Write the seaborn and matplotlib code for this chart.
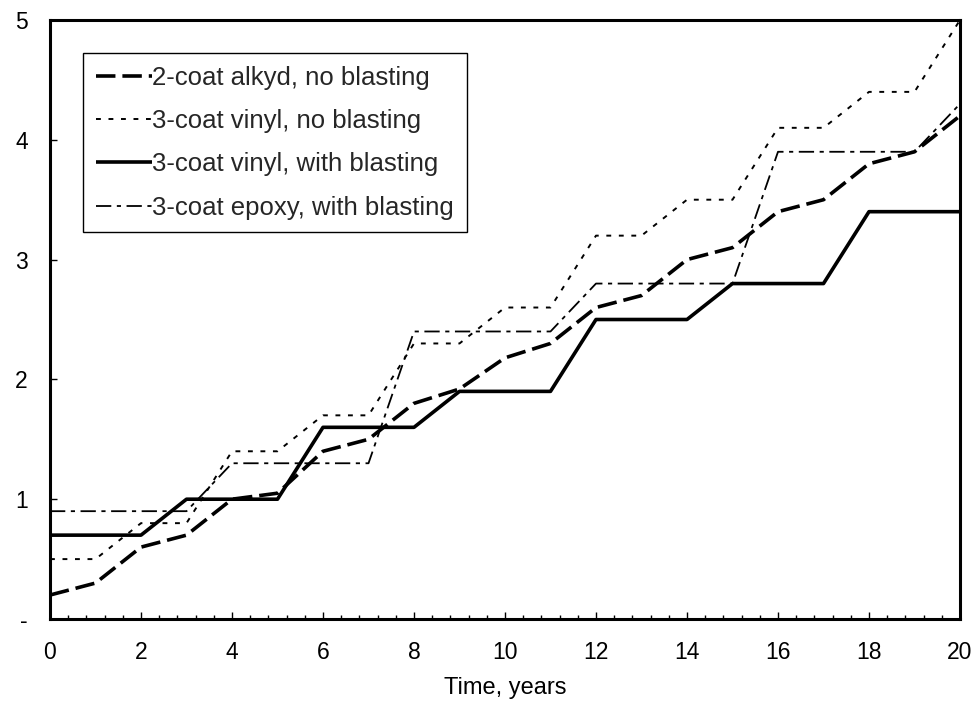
import matplotlib
matplotlib.use("Agg")
import matplotlib.pyplot as plt
from matplotlib.ticker import MultipleLocator, FixedLocator, FixedFormatter
import seaborn as sns
import pandas as pd

years = list(range(0, 21))
alkyd_no_blast = [0.2, 0.3, 0.6, 0.7, 1.0, 1.05, 1.4, 1.5, 1.8, 1.92, 2.18, 2.3,
                  2.6, 2.7, 3.0, 3.1, 3.4, 3.5, 3.8, 3.9, 4.2]
vinyl_no_blast = [0.5, 0.5, 0.8, 0.8, 1.4, 1.4, 1.7, 1.7, 2.3, 2.3, 2.6, 2.6,
                  3.2, 3.2, 3.5, 3.5, 4.1, 4.1, 4.4, 4.4, 5.0]
vinyl_blast = [0.7, 0.7, 0.7, 1.0, 1.0, 1.0, 1.6, 1.6, 1.6, 1.9, 1.9, 1.9,
               2.5, 2.5, 2.5, 2.8, 2.8, 2.8, 3.4, 3.4, 3.4]
epoxy_blast = [0.9, 0.9, 0.9, 0.9, 1.3, 1.3, 1.3, 1.3, 2.4, 2.4, 2.4, 2.4,
               2.8, 2.8, 2.8, 2.8, 3.9, 3.9, 3.9, 3.9, 4.3]

labels = ["2-coat alkyd, no blasting", "3-coat vinyl, no blasting",
          "3-coat vinyl, with blasting", "3-coat epoxy, with blasting"]
x_ticks = [0, 2, 4, 6, 8, 10, 12, 14, 16, 18, 20]
y_ticks = [0, 1, 2, 3, 4, 5]
y_ticklabels = ["-", "1", "2", "3", "4", "5"]
x_label = "Time, years"

sns.set_style("white")
plt.rcParams["font.family"] = ["Liberation Sans", "DejaVu Sans"]
plt.rcParams["lines.scale_dashes"] = False

fig = plt.figure(figsize=(9.76, 7.04), dpi=100)
ax = fig.add_axes([50 / 976, 1 - 619 / 704, 910 / 976, 599 / 704])

series = [alkyd_no_blast, vinyl_no_blast, vinyl_blast, epoxy_blast]
styles = [
    dict(lw=2.6, ls=(0, (14, 5))),
    dict(lw=1.4, ls=(0, (3.5, 5.5))),
    dict(lw=2.6, ls="-"),
    dict(lw=1.3, ls=(0, (11, 4, 3, 4))),
]
for vals, lab, st in zip(series, labels, styles):
    df = pd.DataFrame({"t": years, "v": vals})
    sns.lineplot(data=df, x="t", y="v", ax=ax, color="black",
                 linewidth=st["lw"], linestyle=st["ls"], label=lab,
                 errorbar=None, solid_capstyle="butt", dash_capstyle="butt")

ax.set_xlim(0, 20)
ax.set_ylim(0, 5)
ax.xaxis.set_major_locator(FixedLocator(x_ticks))
ax.xaxis.set_minor_locator(MultipleLocator(0.4))
ax.yaxis.set_major_locator(FixedLocator(y_ticks))
ax.yaxis.set_major_formatter(FixedFormatter(y_ticklabels))
ax.tick_params(axis="both", which="major", direction="in", length=5, width=1,
               labelsize=16.5, pad=16, color="black", labelcolor="black",
               bottom=True, left=True, top=False, right=False)
ax.tick_params(axis="x", which="minor", direction="in", length=3, width=1,
               bottom=True, top=False, color="black")
ax.set_xlabel(x_label, fontsize=17, labelpad=9, color="black")
ax.set_ylabel("")
for sp in ax.spines.values():
    sp.set_visible(True)
    sp.set_color("black")
    sp.set_linewidth(2.2)

leg = ax.legend(loc="upper left", bbox_to_anchor=(0.036, 0.945),
                borderaxespad=0, fontsize=18.5, frameon=True, fancybox=False,
                handlelength=2.2, handletextpad=0.0, labelspacing=0.75,
                borderpad=0.5)
leg.get_frame().set_edgecolor("black")
leg.get_frame().set_linewidth(1.0)
leg.get_frame().set_facecolor("white")
leg.get_frame().set_alpha(1)

fig.savefig("out.png", dpi=100)
